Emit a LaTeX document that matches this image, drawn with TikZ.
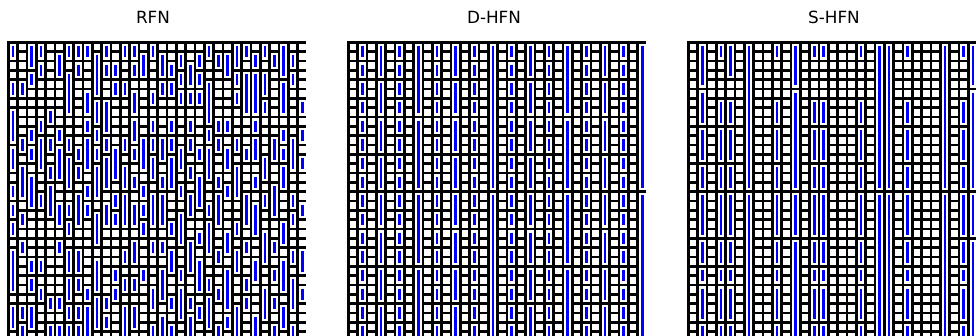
\documentclass[tikz,border=0pt]{standalone}
\usepackage{fontspec}
\setmainfont{DejaVu Sans}
\begin{document}
\begin{tikzpicture}[x=1pt,y=-1pt,
  gridline/.style={line width=2.5pt,black},
  barblue/.style={line width=2.6pt,blue},
  title/.style={font=\fontsize{16.8}{20}\selectfont,anchor=center}]
\useasboundingbox (0,0) rectangle (976,336);
\clip (0,0) rectangle (976,336);
\def\cs{9.3333}
\newcommand\fusebar[4]{%
  \pgfmathsetmacro\xr{#1+(#2+1)*\cs-1.25+(#2==31)*4}
  \fill[white] ({#1+#2*\cs+1.25},{42.3+(#3-0.72)*\cs}) rectangle (\xr,{42.3+(#4+0.72)*\cs});
  \draw[barblue] ({#1+(#2+0.5)*\cs},{42.3+(#3-0.62)*\cs}) -- ({#1+(#2+0.5)*\cs},{42.3+(#4+0.62)*\cs});
}
\newcommand\gridpanel[1]{%
  \foreach \j in {0,...,31} \draw[gridline] ({#1-1.25},{42.3+\j*\cs}) -- ({#1+32*\cs-1},{42.3+\j*\cs});
  \foreach \i in {0,...,31} \draw[gridline] ({#1+\i*\cs},{42.3-1.25}) -- ({#1+\i*\cs},340);
}
% titles
\node[title] (t1) at (153,17) {RFN};
\node[title] (t2) at (494,17) {D-HFN};
\node[title] (t3) at (834,17) {S-HFN};
% RFN
\gridpanel{8.3}
\foreach \c/\a/\b in {0/1/1,2/1/2,3/1/1,5/2/3,6/1/1,7/1/1,8/1/1,10/1/1,12/1/1,13/1/1,15/1/1,
  3/3/3,2/4/4,7/3/3,9/2/5,10/3/3,11/3/3,13/3/3,14/2/3,0/5/5,1/5/5,6/4/7,11/5/5,12/5/5,13/6/7,15/6/6,
  8/6/7,9/7/8,10/7/9,0/8/10,4/8/8,3/9/9,2/10/10,5/10/10,8/9/9,9/10/10,13/9/10,15/9/9,
  16/2/3,17/3/3,18/2/2,19/3/4,20/2/2,21/1/1,22/2/2,23/2/3,24/1/2,25/1/1,26/2/2,27/1/1,28/2/2,29/1/3,30/2/2,
  16/5/5,17/5/5,18/4/4,20/4/4,21/5/8,18/6/6,19/6/6,20/6/6,24/4/4,24/6/6,25/4/7,26/4/7,27/4/5,27/7/7,29/5/7,30/4/4,31/7/7,
  26/9/9,17/9/9,19/9/9,22/9/9,23/9/9,21/10/10,29/10/10,
  0/20/20,6/20/20,9/19/21,14/20/20,1/22/22,0/23/26,5/22/22,6/23/24,7/23/24,9/24/26,13/22/23,15/22/22,
  2/24/24,3/24/24,12/23/23,11/25/25,14/25/25,2/26/26,6/26/27,7/26/26,12/26/26,13/26/26,3/27/27,8/27/27,
  11/27/27,15/27/28,4/28/28,5/28/28,10/28/28,0/29/30,1/29/29,2/29/30,6/29/29,7/29/29,8/29/31,9/28/30,
  10/30/30,12/29/31,13/29/30,1/31/31,4/31/31,5/31/31,6/31/31,7/31/31,15/31/31,
  0/12/13,0/16/16,0/18/18,1/11/11,1/14/16,1/19/19,2/12/12,2/15/17,3/11/13,3/17/17,4/11/11,4/14/14,4/16/18,
  5/12/14,5/18/19,6/11/11,6/13/15,6/18/18,7/12/12,7/14/14,7/17/19,8/11/13,8/16/16,8/18/18,9/12/12,9/14/16,
  10/11/11,10/13/15,10/18/19,11/12/14,11/17/17,11/19/19,12/11/11,12/14/15,12/17/19,13/12/12,13/15/15,13/18/19,
  14/11/13,14/16/16,14/18/18,15/11/11,15/13/14,15/17/19,
  16/11/12,16/15/15,16/17/19,16/22/22,16/25/27,16/30/31,17/11/11,17/13/15,17/20/20,17/23/24,17/28/28,17/31/31,
  18/12/13,18/16/16,18/19/21,18/25/25,18/27/29,19/11/11,19/14/14,19/17/18,19/22/24,19/28/28,19/30/31,
  20/12/12,20/15/17,20/21/21,20/24/26,20/29/29,21/12/14,21/18/18,21/20/22,21/26/26,21/28/30,
  22/11/11,22/15/15,22/17/19,22/23/23,22/27/27,22/31/31,23/12/13,23/16/16,23/21/22,23/25/28,23/30/30,
  24/11/11,24/14/16,24/20/20,24/23/24,24/29/31,25/12/12,25/17/19,25/22/22,25/26/26,25/28/28,
  26/11/12,26/15/15,26/18/20,26/24/25,26/30/31,27/13/14,27/17/17,27/21/23,27/27/29,
  28/11/12,28/16/18,28/22/22,28/25/25,28/28/28,28/31/31,29/12/12,29/14/15,29/20/21,29/24/26,29/29/30,
  30/11/13,30/17/17,30/19/19,30/23/23,30/26/28,30/31/31,31/10/10,31/13/13,31/18/18,31/23/24,31/27/27}
  {\fusebar{8.3}{\c}{\a}{\b}}
% D-HFN
\gridpanel{348.3}
\foreach \c in {1,5,...,29} {\foreach \r in {1,3,...,31} {\fusebar{348.3}{\c}{\r}{\r}}}
\foreach \c in {3,11,19,27} {\foreach \r in {1,5,...,29} {\fusebar{348.3}{\c}{\r}{\r+2}}}
\foreach \c in {7,23} {\foreach \r in {1,9,17,25} {\fusebar{348.3}{\c}{\r}{\r+6}}}
\foreach \c in {15,31} {\foreach \r in {1,17} {\fusebar{348.3}{\c}{\r}{\r+14}}}
% S-HFN
\gridpanel{688.3}
\foreach \c in {3,9,13,14,18,23,29} {\foreach \a/\b in {1/1,7/8,10/12,14/15,17/20,22/23,25/25,27/29,31/31} {\fusebar{688.3}{\c}{\a}{\b}}}
\foreach \a/\b in {1/4,6/8,10/12,14/15,17/20,22/23,25/25,27/29,31/31} {\fusebar{688.3}{1}{\a}{\b}}
\foreach \a/\b in {1/3,7/8,10/12,14/15,17/20,22/23,25/25,27/29,31/31} {\fusebar{688.3}{4}{\a}{\b}}
\foreach \c in {11,30} {\foreach \a/\b in {1/4,6/15,17/20,22/31} {\fusebar{688.3}{\c}{\a}{\b}}}
\foreach \c in {6,20,21,27} {\foreach \a/\b in {1/15,17/31} {\fusebar{688.3}{\c}{\a}{\b}}}
\end{tikzpicture}
\end{document}
